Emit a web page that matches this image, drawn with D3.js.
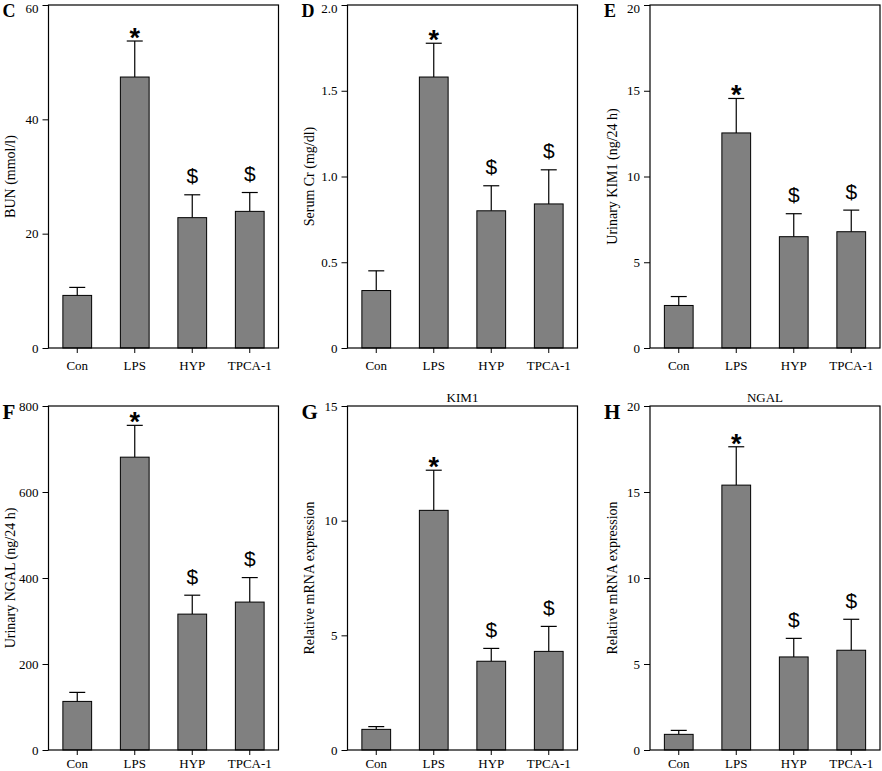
<!DOCTYPE html>
<html>
<head>
<meta charset="utf-8">
<script src="https://cdn.jsdelivr.net/npm/d3@7"></script>
<style>
  body { margin: 0; background: #fff; }
  svg { display: block; }
  text { font-family: "Liberation Serif", "Times New Roman", serif; fill: #000; }
</style>
</head>
<body>
<svg id="chart" width="882" height="771"></svg>
<script>
// groups on the x axis
const groups = ["Con", "LPS", "HYP", "TPCA-1"];
// significance marks above each group
const marks = ["", "*", "$", "$"];

// panel letters, titles and axis labels
const letters = ["C", "D", "E", "F", "G", "H"];
const titles = ["", "", "", "", "KIM1", "NGAL"];
const yLabels = ["BUN (mmol/l)", "Serum Cr (mg/dl)", "Urinary KIM1 (ng/24 h)",
                 "Urinary NGAL (ng/24 h)", "Relative mRNA expression", "Relative mRNA expression"];

// means per panel (Con, LPS, HYP, TPCA-1)
const bunMean = [9.2, 47.4, 22.8, 23.9];
const crMean = [0.335, 1.58, 0.80, 0.84];
const kimUMean = [2.48, 12.54, 6.49, 6.78];
const ngalUMean = [113, 681, 316, 344];
const kimMean = [0.9, 10.45, 3.87, 4.3];
const ngalMean = [0.91, 15.4, 5.41, 5.8];

// upper end of error bars (mean + SD)
const bunErr = [10.6, 53.7, 26.8, 27.2];
const crErr = [0.45, 1.777, 0.946, 1.039];
const kimUErr = [3.0, 14.55, 7.83, 8.04];
const ngalUErr = [134, 755, 360, 401];
const kimErr = [1.02, 12.2, 4.43, 5.39];
const ngalErr = [1.14, 17.63, 6.49, 7.6];

// y axis ticks per panel
const bunTicks = [0, 20, 40, 60];
const crTicks = [0, 0.5, 1.0, 1.5, 2.0];
const kimUTicks = [0, 5, 10, 15, 20];
const ngalUTicks = [0, 200, 400, 600, 800];
const kimTicks = [0, 5, 10, 15];
const ngalTicks = [0, 5, 10, 15, 20];

const means = [bunMean, crMean, kimUMean, ngalUMean, kimMean, ngalMean];
const errs = [bunErr, crErr, kimUErr, ngalUErr, kimErr, ngalErr];
const ticks = [bunTicks, crTicks, kimUTicks, ngalUTicks, kimTicks, ngalTicks];
const tickFmt = [d3.format("d"), d => d === 0 ? "0" : d3.format(".1f")(d),
                 d3.format("d"), d3.format("d"), d3.format("d"), d3.format("d")];

// layout
const colLeft = [48.5, 347.5, 650];
const rowTop = [5, 406];
const plotW = 230;
const plotH = 344;

const svg = d3.select("#chart");

letters.forEach((letter, p) => {
    const left = colLeft[p % 3];
    const row = Math.floor(p / 3);
    const top = rowTop[row];
    const h = row === 0 ? plotH - 1 : plotH;
    const g = svg.append("g").attr("transform", `translate(${left},${top})`);

    const yMax = ticks[p][ticks[p].length - 1];
    const x = d3.scaleBand()
        .domain(groups)
        .range([0, plotW])
        .paddingInner(0.5)
        .paddingOuter(0.25);
    const y = d3.scaleLinear()
        .domain([0, yMax])
        .range([h, 0]);

    const rows = groups.map((name, i) => ({ name: name, v: means[p][i], e: errs[p][i], mark: marks[i] }));

    // error bars (upper only)
    const eb = g.selectAll("g.err").data(rows).enter().append("g").attr("class", "err");
    eb.append("line")
        .attr("x1", d => x(d.name) + x.bandwidth() / 2)
        .attr("x2", d => x(d.name) + x.bandwidth() / 2)
        .attr("y1", d => y(d.v))
        .attr("y2", d => y(d.e))
        .attr("stroke", "#000").attr("stroke-width", 1.2);
    eb.append("line")
        .attr("x1", d => x(d.name) + x.bandwidth() / 2 - 8)
        .attr("x2", d => x(d.name) + x.bandwidth() / 2 + 8)
        .attr("y1", d => y(d.e))
        .attr("y2", d => y(d.e))
        .attr("stroke", "#000").attr("stroke-width", 1.2);

    // bars
    g.selectAll("rect.bar").data(rows).enter().append("rect")
        .attr("class", "bar")
        .attr("x", d => x(d.name))
        .attr("width", x.bandwidth())
        .attr("y", d => y(d.v))
        .attr("height", d => h - y(d.v))
        .attr("fill", "#808080")
        .attr("stroke", "#000")
        .attr("stroke-width", 1);

    // significance marks
    g.selectAll("text.mark").data(rows.filter(d => d.mark)).enter().append("text")
        .attr("class", "mark")
        .attr("x", d => x(d.name) + x.bandwidth() / 2)
        .attr("y", d => d.mark === "*" ? y(d.e) + 6 : y(d.e) - 11.5)
        .attr("text-anchor", "middle")
        .style("font-family", "'Liberation Sans', Arial, sans-serif")
        .style("font-size", d => d.mark === "*" ? "27px" : "21px")
        .style("font-weight", d => d.mark === "*" ? "bold" : "normal")
        .text(d => d.mark);

    // axes
    const yAxis = d3.axisLeft(y).tickValues(ticks[p]).tickFormat(tickFmt[p]).tickSize(6).tickPadding(4);
    const xAxis = d3.axisBottom(x).tickSize(5).tickPadding(row === 0 ? 5 : 1);

    const ya = g.append("g").call(yAxis);
    const xa = g.append("g").attr("transform", `translate(0,${h})`).call(xAxis);
    [ya, xa].forEach(a => {
        a.select(".domain").remove();
        a.selectAll("line").attr("stroke", "#000");
        a.selectAll("text")
            .style("font-family", "'Liberation Serif', 'Times New Roman', serif")
            .style("font-size", "13px")
            .attr("fill", "#000");
    });
    xa.selectAll("text").attr("dy", "0.9em");
    // keep the top tick label of the upper row inside the picture
    if (row === 0) {
        ya.selectAll(".tick text").filter(d => d === yMax).attr("dy", "7px");
    }

    // frame
    g.append("rect")
        .attr("width", plotW).attr("height", h)
        .attr("fill", "none").attr("stroke", "#000").attr("stroke-width", 1.2);

    // y label
    g.append("text")
        .attr("transform", `translate(-38,${h / 2}) rotate(-90)`)
        .attr("text-anchor", "middle")
        .attr("dy", "0.35em")
        .style("font-size", "14px")
        .text(yLabels[p]);

    // title
    if (titles[p]) {
        g.append("text")
            .attr("x", plotW / 2)
            .attr("y", -4)
            .attr("text-anchor", "middle")
            .style("font-size", "13px")
            .text(titles[p]);
    }

    // panel letter
    g.append("text")
        .attr("x", -46)
        .attr("y", row === 0 ? 12 : 13)
        .style("font-size", row === 0 ? "18px" : "21px")
        .style("font-weight", "bold")
        .text(letter);
});
</script>
</body>
</html>
